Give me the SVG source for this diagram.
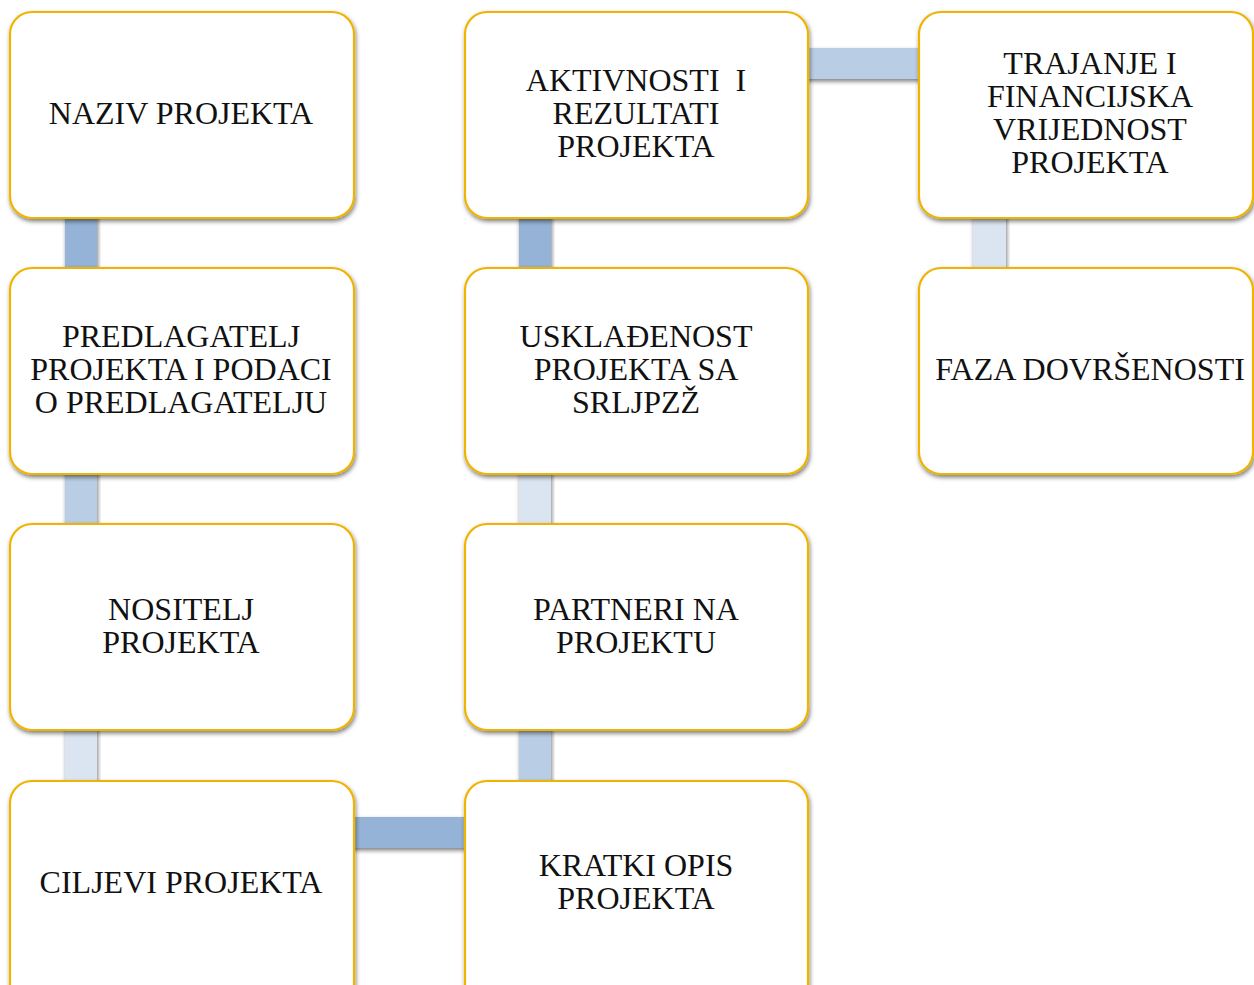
<svg xmlns="http://www.w3.org/2000/svg" width="1254" height="985" viewBox="0 0 1254 985">
<defs>
<filter id="sh" x="-10%" y="-10%" width="120%" height="130%">
<feDropShadow dx="1" dy="2.5" stdDeviation="2" flood-color="#000" flood-opacity="0.5"/>
</filter>
<style>
.box{fill:#fff;stroke:#f0b400;stroke-width:2.2;filter:url(#sh)}
.c{stroke:none;filter:url(#sh)}
.d{fill:#95b3d7}
.m{fill:#b9cde5}
.l{fill:#dbe5f1}
text{font-family:"Liberation Serif","Times New Roman",serif;font-size:32px;fill:#111;text-anchor:middle}
</style>
</defs>
<rect width="1254" height="985" fill="#fff"/>
<g id="connectors">
<rect class="c d" x="65" y="214" width="32" height="58"/>
<rect class="c m" x="65" y="470" width="32" height="58"/>
<rect class="c l" x="65" y="726" width="32" height="58"/>
<rect class="c d" x="350" y="817" width="119" height="31"/>
<rect class="c m" x="519" y="726" width="32" height="58"/>
<rect class="c l" x="519" y="470" width="32" height="58"/>
<rect class="c d" x="519" y="214" width="32" height="58"/>
<rect class="c m" x="804" y="48" width="119" height="31"/>
<rect class="c l" x="973" y="214" width="33" height="58"/>
</g>
<g id="n1"><rect class="box" x="10" y="12" width="344" height="206" rx="22"/>
<text x="181" y="124">NAZIV PROJEKTA</text></g>
<g id="n2"><rect class="box" x="10" y="268" width="344" height="206" rx="22"/>
<text x="181" y="347">PREDLAGATELJ</text><text x="181" y="380">PROJEKTA I PODACI</text><text x="181" y="413">O PREDLAGATELJU</text></g>
<g id="n3"><rect class="box" x="10" y="524" width="344" height="206" rx="22"/>
<text x="181" y="620">NOSITELJ</text><text x="181" y="653">PROJEKTA</text></g>
<g id="n4"><rect class="box" x="10" y="781" width="344" height="230" rx="22"/>
<text x="181" y="893">CILJEVI PROJEKTA</text></g>
<g id="n5"><rect class="box" x="465" y="781" width="343" height="230" rx="22"/>
<text x="636" y="876">KRATKI OPIS</text><text x="636" y="909">PROJEKTA</text></g>
<g id="n6"><rect class="box" x="465" y="524" width="343" height="206" rx="22"/>
<text x="636" y="620">PARTNERI NA</text><text x="636" y="653">PROJEKTU</text></g>
<g id="n7"><rect class="box" x="465" y="268" width="343" height="206" rx="22"/>
<text x="636" y="347">USKLAĐENOST</text><text x="636" y="380">PROJEKTA SA</text><text x="636" y="413">SRLJPZŽ</text></g>
<g id="n8"><rect class="box" x="465" y="12" width="343" height="206" rx="22"/>
<text x="636" y="91" xml:space="preserve" style="white-space:pre">AKTIVNOSTI  I</text><text x="636" y="124">REZULTATI</text><text x="636" y="157">PROJEKTA</text></g>
<g id="n9"><rect class="box" x="919" y="12" width="334" height="206" rx="22"/>
<text x="1090" y="74">TRAJANJE I</text><text x="1090" y="107">FINANCIJSKA</text><text x="1090" y="140">VRIJEDNOST</text><text x="1090" y="173">PROJEKTA</text></g>
<g id="n10"><rect class="box" x="919" y="268" width="334" height="206" rx="22"/>
<text x="1090" y="380">FAZA DOVRŠENOSTI</text></g>
</svg>
